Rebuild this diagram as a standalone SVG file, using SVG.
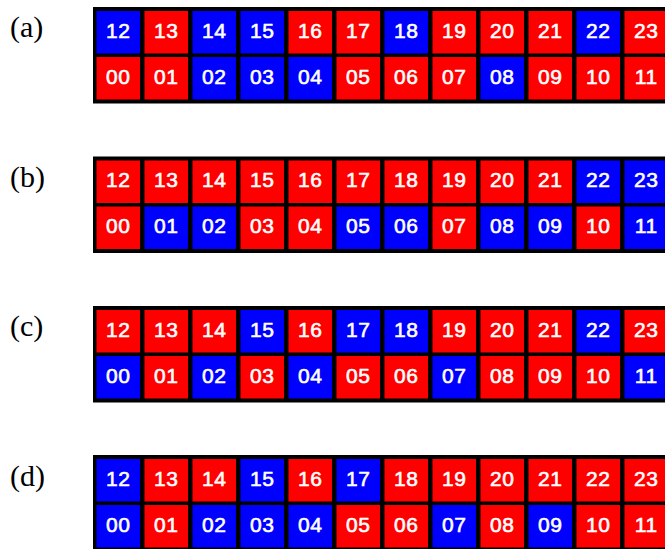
<svg xmlns="http://www.w3.org/2000/svg" width="665" height="549" viewBox="0 0 665 549">
<style>
.bg{fill:#000}
.R{fill:#FF0000}
.B{fill:#0000FF}
.n{font-family:"Liberation Sans",Arial,sans-serif;font-size:21px;fill:#fff;stroke:#fff;stroke-width:0.6px;text-anchor:middle;letter-spacing:0.5px}
.lab{font-family:"Liberation Serif","Times New Roman",serif;font-size:30px;fill:#000}
</style>
<rect width="665" height="549" fill="#fff"/>
<g id="connectors"/>

<g id="panel-a">
<text class="lab" x="10" y="37">(a)</text>
<rect class="bg" x="93" y="7" width="580" height="96.5"/>
<g id="a12"><rect class="B" x="96.5" y="11" width="43.5" height="42.5"/><text class="n" x="118.25" y="37.5">12</text></g>
<g id="a13"><rect class="R" x="144.5" y="11" width="43.5" height="42.5"/><text class="n" x="166.25" y="37.5">13</text></g>
<g id="a14"><rect class="B" x="192.5" y="11" width="43.5" height="42.5"/><text class="n" x="214.25" y="37.5">14</text></g>
<g id="a15"><rect class="B" x="240.5" y="11" width="43.5" height="42.5"/><text class="n" x="262.25" y="37.5">15</text></g>
<g id="a16"><rect class="R" x="288.5" y="11" width="43.5" height="42.5"/><text class="n" x="310.25" y="37.5">16</text></g>
<g id="a17"><rect class="R" x="336.5" y="11" width="43.5" height="42.5"/><text class="n" x="358.25" y="37.5">17</text></g>
<g id="a18"><rect class="B" x="384.5" y="11" width="43.5" height="42.5"/><text class="n" x="406.25" y="37.5">18</text></g>
<g id="a19"><rect class="R" x="432.5" y="11" width="43.5" height="42.5"/><text class="n" x="454.25" y="37.5">19</text></g>
<g id="a20"><rect class="R" x="480.5" y="11" width="43.5" height="42.5"/><text class="n" x="502.25" y="37.5">20</text></g>
<g id="a21"><rect class="R" x="528.5" y="11" width="43.5" height="42.5"/><text class="n" x="550.25" y="37.5">21</text></g>
<g id="a22"><rect class="B" x="576.5" y="11" width="43.5" height="42.5"/><text class="n" x="598.25" y="37.5">22</text></g>
<g id="a23"><rect class="R" x="624.5" y="11" width="43.5" height="42.5"/><text class="n" x="646.25" y="37.5">23</text></g>
<g id="a00"><rect class="R" x="96.5" y="57" width="43.5" height="42.5"/><text class="n" x="118.25" y="83.5">00</text></g>
<g id="a01"><rect class="R" x="144.5" y="57" width="43.5" height="42.5"/><text class="n" x="166.25" y="83.5">01</text></g>
<g id="a02"><rect class="B" x="192.5" y="57" width="43.5" height="42.5"/><text class="n" x="214.25" y="83.5">02</text></g>
<g id="a03"><rect class="B" x="240.5" y="57" width="43.5" height="42.5"/><text class="n" x="262.25" y="83.5">03</text></g>
<g id="a04"><rect class="B" x="288.5" y="57" width="43.5" height="42.5"/><text class="n" x="310.25" y="83.5">04</text></g>
<g id="a05"><rect class="R" x="336.5" y="57" width="43.5" height="42.5"/><text class="n" x="358.25" y="83.5">05</text></g>
<g id="a06"><rect class="R" x="384.5" y="57" width="43.5" height="42.5"/><text class="n" x="406.25" y="83.5">06</text></g>
<g id="a07"><rect class="R" x="432.5" y="57" width="43.5" height="42.5"/><text class="n" x="454.25" y="83.5">07</text></g>
<g id="a08"><rect class="B" x="480.5" y="57" width="43.5" height="42.5"/><text class="n" x="502.25" y="83.5">08</text></g>
<g id="a09"><rect class="R" x="528.5" y="57" width="43.5" height="42.5"/><text class="n" x="550.25" y="83.5">09</text></g>
<g id="a10"><rect class="R" x="576.5" y="57" width="43.5" height="42.5"/><text class="n" x="598.25" y="83.5">10</text></g>
<g id="a11"><rect class="R" x="624.5" y="57" width="43.5" height="42.5"/><text class="n" x="646.25" y="83.5">11</text></g>
</g>

<g id="panel-b">
<text class="lab" x="10" y="186.5">(b)</text>
<rect class="bg" x="93" y="156.5" width="580" height="96.5"/>
<g id="b12"><rect class="R" x="96.5" y="160.5" width="43.5" height="42.5"/><text class="n" x="118.25" y="187">12</text></g>
<g id="b13"><rect class="R" x="144.5" y="160.5" width="43.5" height="42.5"/><text class="n" x="166.25" y="187">13</text></g>
<g id="b14"><rect class="R" x="192.5" y="160.5" width="43.5" height="42.5"/><text class="n" x="214.25" y="187">14</text></g>
<g id="b15"><rect class="R" x="240.5" y="160.5" width="43.5" height="42.5"/><text class="n" x="262.25" y="187">15</text></g>
<g id="b16"><rect class="R" x="288.5" y="160.5" width="43.5" height="42.5"/><text class="n" x="310.25" y="187">16</text></g>
<g id="b17"><rect class="R" x="336.5" y="160.5" width="43.5" height="42.5"/><text class="n" x="358.25" y="187">17</text></g>
<g id="b18"><rect class="R" x="384.5" y="160.5" width="43.5" height="42.5"/><text class="n" x="406.25" y="187">18</text></g>
<g id="b19"><rect class="R" x="432.5" y="160.5" width="43.5" height="42.5"/><text class="n" x="454.25" y="187">19</text></g>
<g id="b20"><rect class="R" x="480.5" y="160.5" width="43.5" height="42.5"/><text class="n" x="502.25" y="187">20</text></g>
<g id="b21"><rect class="R" x="528.5" y="160.5" width="43.5" height="42.5"/><text class="n" x="550.25" y="187">21</text></g>
<g id="b22"><rect class="B" x="576.5" y="160.5" width="43.5" height="42.5"/><text class="n" x="598.25" y="187">22</text></g>
<g id="b23"><rect class="B" x="624.5" y="160.5" width="43.5" height="42.5"/><text class="n" x="646.25" y="187">23</text></g>
<g id="b00"><rect class="R" x="96.5" y="206.5" width="43.5" height="42.5"/><text class="n" x="118.25" y="233">00</text></g>
<g id="b01"><rect class="B" x="144.5" y="206.5" width="43.5" height="42.5"/><text class="n" x="166.25" y="233">01</text></g>
<g id="b02"><rect class="B" x="192.5" y="206.5" width="43.5" height="42.5"/><text class="n" x="214.25" y="233">02</text></g>
<g id="b03"><rect class="R" x="240.5" y="206.5" width="43.5" height="42.5"/><text class="n" x="262.25" y="233">03</text></g>
<g id="b04"><rect class="R" x="288.5" y="206.5" width="43.5" height="42.5"/><text class="n" x="310.25" y="233">04</text></g>
<g id="b05"><rect class="B" x="336.5" y="206.5" width="43.5" height="42.5"/><text class="n" x="358.25" y="233">05</text></g>
<g id="b06"><rect class="B" x="384.5" y="206.5" width="43.5" height="42.5"/><text class="n" x="406.25" y="233">06</text></g>
<g id="b07"><rect class="R" x="432.5" y="206.5" width="43.5" height="42.5"/><text class="n" x="454.25" y="233">07</text></g>
<g id="b08"><rect class="B" x="480.5" y="206.5" width="43.5" height="42.5"/><text class="n" x="502.25" y="233">08</text></g>
<g id="b09"><rect class="B" x="528.5" y="206.5" width="43.5" height="42.5"/><text class="n" x="550.25" y="233">09</text></g>
<g id="b10"><rect class="R" x="576.5" y="206.5" width="43.5" height="42.5"/><text class="n" x="598.25" y="233">10</text></g>
<g id="b11"><rect class="B" x="624.5" y="206.5" width="43.5" height="42.5"/><text class="n" x="646.25" y="233">11</text></g>
</g>

<g id="panel-c">
<text class="lab" x="10" y="336">(c)</text>
<rect class="bg" x="93" y="306" width="580" height="96.5"/>
<g id="c12"><rect class="R" x="96.5" y="310" width="43.5" height="42.5"/><text class="n" x="118.25" y="336.5">12</text></g>
<g id="c13"><rect class="R" x="144.5" y="310" width="43.5" height="42.5"/><text class="n" x="166.25" y="336.5">13</text></g>
<g id="c14"><rect class="R" x="192.5" y="310" width="43.5" height="42.5"/><text class="n" x="214.25" y="336.5">14</text></g>
<g id="c15"><rect class="B" x="240.5" y="310" width="43.5" height="42.5"/><text class="n" x="262.25" y="336.5">15</text></g>
<g id="c16"><rect class="R" x="288.5" y="310" width="43.5" height="42.5"/><text class="n" x="310.25" y="336.5">16</text></g>
<g id="c17"><rect class="B" x="336.5" y="310" width="43.5" height="42.5"/><text class="n" x="358.25" y="336.5">17</text></g>
<g id="c18"><rect class="B" x="384.5" y="310" width="43.5" height="42.5"/><text class="n" x="406.25" y="336.5">18</text></g>
<g id="c19"><rect class="R" x="432.5" y="310" width="43.5" height="42.5"/><text class="n" x="454.25" y="336.5">19</text></g>
<g id="c20"><rect class="R" x="480.5" y="310" width="43.5" height="42.5"/><text class="n" x="502.25" y="336.5">20</text></g>
<g id="c21"><rect class="R" x="528.5" y="310" width="43.5" height="42.5"/><text class="n" x="550.25" y="336.5">21</text></g>
<g id="c22"><rect class="B" x="576.5" y="310" width="43.5" height="42.5"/><text class="n" x="598.25" y="336.5">22</text></g>
<g id="c23"><rect class="R" x="624.5" y="310" width="43.5" height="42.5"/><text class="n" x="646.25" y="336.5">23</text></g>
<g id="c00"><rect class="B" x="96.5" y="356" width="43.5" height="42.5"/><text class="n" x="118.25" y="382.5">00</text></g>
<g id="c01"><rect class="R" x="144.5" y="356" width="43.5" height="42.5"/><text class="n" x="166.25" y="382.5">01</text></g>
<g id="c02"><rect class="B" x="192.5" y="356" width="43.5" height="42.5"/><text class="n" x="214.25" y="382.5">02</text></g>
<g id="c03"><rect class="R" x="240.5" y="356" width="43.5" height="42.5"/><text class="n" x="262.25" y="382.5">03</text></g>
<g id="c04"><rect class="B" x="288.5" y="356" width="43.5" height="42.5"/><text class="n" x="310.25" y="382.5">04</text></g>
<g id="c05"><rect class="R" x="336.5" y="356" width="43.5" height="42.5"/><text class="n" x="358.25" y="382.5">05</text></g>
<g id="c06"><rect class="R" x="384.5" y="356" width="43.5" height="42.5"/><text class="n" x="406.25" y="382.5">06</text></g>
<g id="c07"><rect class="B" x="432.5" y="356" width="43.5" height="42.5"/><text class="n" x="454.25" y="382.5">07</text></g>
<g id="c08"><rect class="R" x="480.5" y="356" width="43.5" height="42.5"/><text class="n" x="502.25" y="382.5">08</text></g>
<g id="c09"><rect class="R" x="528.5" y="356" width="43.5" height="42.5"/><text class="n" x="550.25" y="382.5">09</text></g>
<g id="c10"><rect class="R" x="576.5" y="356" width="43.5" height="42.5"/><text class="n" x="598.25" y="382.5">10</text></g>
<g id="c11"><rect class="B" x="624.5" y="356" width="43.5" height="42.5"/><text class="n" x="646.25" y="382.5">11</text></g>
</g>

<g id="panel-d">
<text class="lab" x="10" y="485.5">(d)</text>
<rect class="bg" x="93" y="455" width="580" height="96.5"/>
<g id="d12"><rect class="B" x="96.5" y="459" width="43.5" height="42.5"/><text class="n" x="118.25" y="485.5">12</text></g>
<g id="d13"><rect class="R" x="144.5" y="459" width="43.5" height="42.5"/><text class="n" x="166.25" y="485.5">13</text></g>
<g id="d14"><rect class="R" x="192.5" y="459" width="43.5" height="42.5"/><text class="n" x="214.25" y="485.5">14</text></g>
<g id="d15"><rect class="B" x="240.5" y="459" width="43.5" height="42.5"/><text class="n" x="262.25" y="485.5">15</text></g>
<g id="d16"><rect class="R" x="288.5" y="459" width="43.5" height="42.5"/><text class="n" x="310.25" y="485.5">16</text></g>
<g id="d17"><rect class="B" x="336.5" y="459" width="43.5" height="42.5"/><text class="n" x="358.25" y="485.5">17</text></g>
<g id="d18"><rect class="R" x="384.5" y="459" width="43.5" height="42.5"/><text class="n" x="406.25" y="485.5">18</text></g>
<g id="d19"><rect class="R" x="432.5" y="459" width="43.5" height="42.5"/><text class="n" x="454.25" y="485.5">19</text></g>
<g id="d20"><rect class="R" x="480.5" y="459" width="43.5" height="42.5"/><text class="n" x="502.25" y="485.5">20</text></g>
<g id="d21"><rect class="R" x="528.5" y="459" width="43.5" height="42.5"/><text class="n" x="550.25" y="485.5">21</text></g>
<g id="d22"><rect class="R" x="576.5" y="459" width="43.5" height="42.5"/><text class="n" x="598.25" y="485.5">22</text></g>
<g id="d23"><rect class="R" x="624.5" y="459" width="43.5" height="42.5"/><text class="n" x="646.25" y="485.5">23</text></g>
<g id="d00"><rect class="B" x="96.5" y="505" width="43.5" height="42.5"/><text class="n" x="118.25" y="531.5">00</text></g>
<g id="d01"><rect class="R" x="144.5" y="505" width="43.5" height="42.5"/><text class="n" x="166.25" y="531.5">01</text></g>
<g id="d02"><rect class="B" x="192.5" y="505" width="43.5" height="42.5"/><text class="n" x="214.25" y="531.5">02</text></g>
<g id="d03"><rect class="B" x="240.5" y="505" width="43.5" height="42.5"/><text class="n" x="262.25" y="531.5">03</text></g>
<g id="d04"><rect class="B" x="288.5" y="505" width="43.5" height="42.5"/><text class="n" x="310.25" y="531.5">04</text></g>
<g id="d05"><rect class="R" x="336.5" y="505" width="43.5" height="42.5"/><text class="n" x="358.25" y="531.5">05</text></g>
<g id="d06"><rect class="R" x="384.5" y="505" width="43.5" height="42.5"/><text class="n" x="406.25" y="531.5">06</text></g>
<g id="d07"><rect class="B" x="432.5" y="505" width="43.5" height="42.5"/><text class="n" x="454.25" y="531.5">07</text></g>
<g id="d08"><rect class="R" x="480.5" y="505" width="43.5" height="42.5"/><text class="n" x="502.25" y="531.5">08</text></g>
<g id="d09"><rect class="B" x="528.5" y="505" width="43.5" height="42.5"/><text class="n" x="550.25" y="531.5">09</text></g>
<g id="d10"><rect class="R" x="576.5" y="505" width="43.5" height="42.5"/><text class="n" x="598.25" y="531.5">10</text></g>
<g id="d11"><rect class="R" x="624.5" y="505" width="43.5" height="42.5"/><text class="n" x="646.25" y="531.5">11</text></g>
</g>
</svg>
